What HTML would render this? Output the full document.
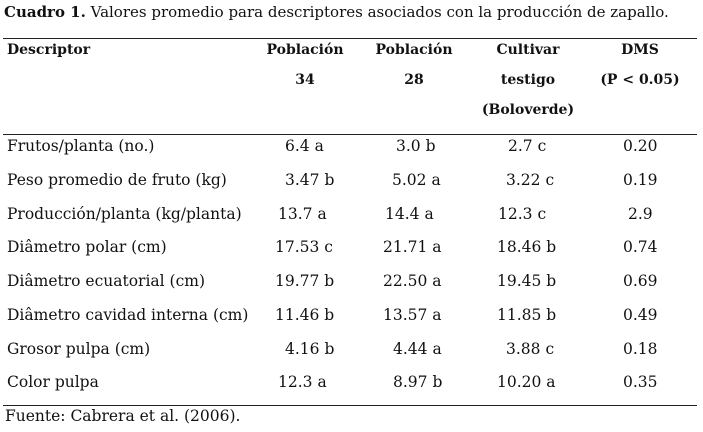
<!DOCTYPE html>
<html><head><meta charset="utf-8">
<style>
body{margin:0;background:#fff;}
#t{position:relative;width:703px;height:432px;background:#fff;color:#111;font-family:"DejaVu Serif","Liberation Serif",serif;font-size:15.5px;}
#t div{position:absolute;white-space:nowrap;line-height:16px;}
.h{font-weight:bold;font-size:14px;text-align:center;}
#t div.m{line-height:30px;}
.ln{height:1px;background:#222;left:3px;width:694px;}
</style></head><body>
<div id="t">
<div style="left:4px;top:4px;font-size:15px;"><b>Cuadro 1.</b> Valores promedio para descriptores asociados con la producción de zapallo.</div>
<div class="ln" style="top:38px;"></div>
<div class="h" style="left:7px;top:42px;text-align:left;">Descriptor</div>
<div class="h m" style="left:255px;width:100px;top:35px;">Población<br>34</div>
<div class="h m" style="left:364px;width:100px;top:35px;">Población<br>28</div>
<div class="h m" style="left:478px;width:100px;top:35px;">Cultivar<br>testigo<br>(Boloverde)</div>
<div class="h m" style="left:590px;width:100px;top:35px;">DMS<br>(P &lt; 0.05)</div>
<div class="ln" style="top:134px;"></div>

<div style="left:7px;top:138px;">Frutos/planta (no.)</div>
<div style="left:285px;top:138px;">6.4 a</div>
<div style="left:396px;top:138px;">3.0 b</div>
<div style="left:508px;top:138px;">2.7 c</div>
<div style="left:623px;top:138px;">0.20</div>

<div style="left:7px;top:172px;">Peso promedio de fruto (kg)</div>
<div style="left:285px;top:172px;">3.47 b</div>
<div style="left:392px;top:172px;">5.02 a</div>
<div style="left:506px;top:172px;">3.22 c</div>
<div style="left:623px;top:172px;">0.19</div>

<div style="left:7px;top:206px;">Producción/planta (kg/planta)</div>
<div style="left:278px;top:206px;">13.7 a</div>
<div style="left:385px;top:206px;">14.4 a</div>
<div style="left:498px;top:206px;">12.3 c</div>
<div style="left:628px;top:206px;">2.9</div>

<div style="left:7px;top:239px;">Diâmetro polar (cm)</div>
<div style="left:275px;top:239px;">17.53 c</div>
<div style="left:383px;top:239px;">21.71 a</div>
<div style="left:497px;top:239px;">18.46 b</div>
<div style="left:623px;top:239px;">0.74</div>

<div style="left:7px;top:273px;">Diâmetro ecuatorial (cm)</div>
<div style="left:275px;top:273px;">19.77 b</div>
<div style="left:383px;top:273px;">22.50 a</div>
<div style="left:497px;top:273px;">19.45 b</div>
<div style="left:623px;top:273px;">0.69</div>

<div style="left:7px;top:307px;">Diâmetro cavidad interna (cm)</div>
<div style="left:275px;top:307px;">11.46 b</div>
<div style="left:383px;top:307px;">13.57 a</div>
<div style="left:497px;top:307px;">11.85 b</div>
<div style="left:623px;top:307px;">0.49</div>

<div style="left:7px;top:341px;">Grosor pulpa (cm)</div>
<div style="left:285px;top:341px;">4.16 b</div>
<div style="left:393px;top:341px;">4.44 a</div>
<div style="left:506px;top:341px;">3.88 c</div>
<div style="left:623px;top:341px;">0.18</div>

<div style="left:7px;top:374px;">Color pulpa</div>
<div style="left:278px;top:374px;">12.3 a</div>
<div style="left:393px;top:374px;">8.97 b</div>
<div style="left:497px;top:374px;">10.20 a</div>
<div style="left:623px;top:374px;">0.35</div>

<div class="ln" style="top:405px;"></div>
<div style="left:5px;top:408px;">Fuente: Cabrera et al. (2006).</div>
</div>
</body></html>
